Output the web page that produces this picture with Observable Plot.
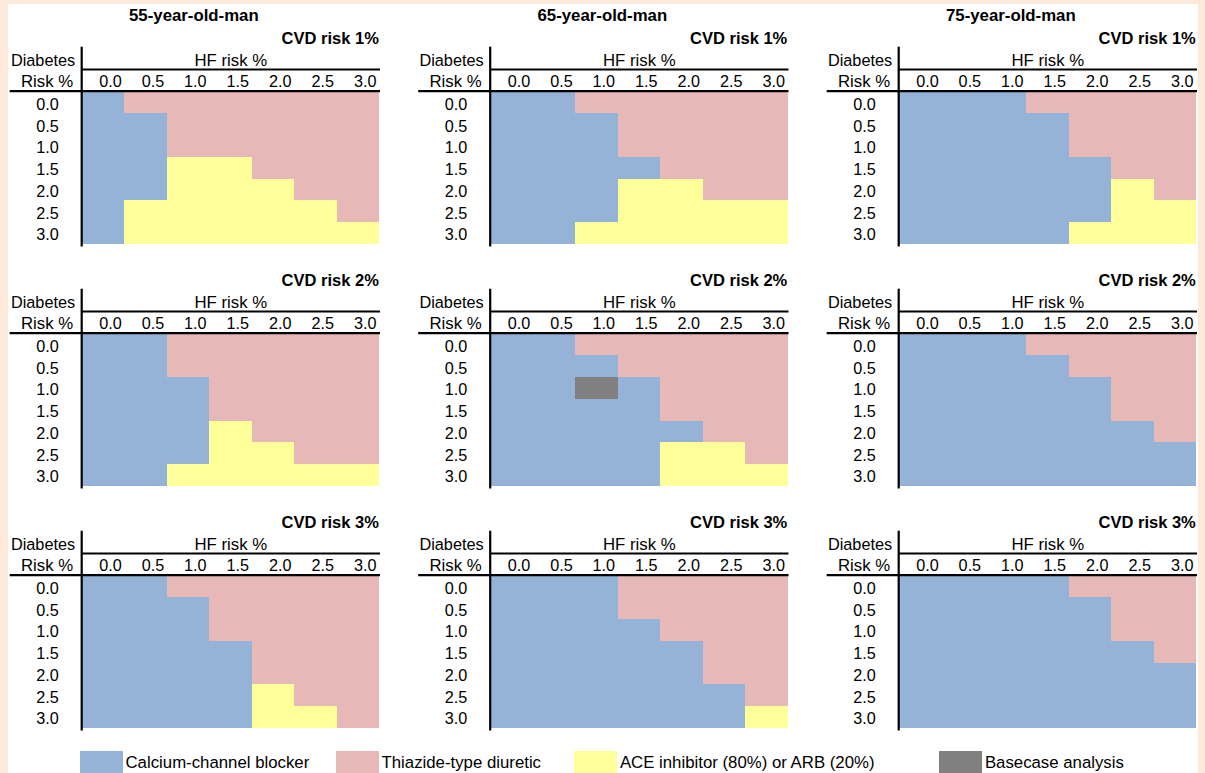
<!DOCTYPE html>
<html>
<head>
<meta charset="utf-8">
<script src="https://cdn.jsdelivr.net/npm/d3@7"></script>
<script src="https://cdn.jsdelivr.net/npm/@observablehq/plot@0.6"></script>
<style>
  html, body { margin: 0; padding: 0; width: 1205px; height: 773px; overflow: hidden; background: #FDE9D9; font-family: 'Liberation Sans', Arial, sans-serif; }
  #sheet { position: absolute; left: 8px; top: 4px; width: 1190px; height: 769px; background: #ffffff; }
  #chart { position: absolute; left: 0; top: 0; }
  #legend { position: absolute; left: 0; top: 0; width: 1205px; height: 773px; }
  .sw { position: absolute; }
  .lb { position: absolute; white-space: nowrap; color: #000; }
</style>
</head>
<body>
<div id="sheet"></div>
<div id="chart"></div>
<div id="legend"></div>
<script>
// ---------- data ----------
const ages = ["55-year-old-man", "65-year-old-man", "75-year-old-man"];
const cvdRisks = ["CVD risk 1%", "CVD risk 2%", "CVD risk 3%"];
const hfRisk = ["0.0", "0.5", "1.0", "1.5", "2.0", "2.5", "3.0"];        // columns
const diabetesRisk = ["0.0", "0.5", "1.0", "1.5", "2.0", "2.5", "3.0"];  // rows
const rowHeader = ["Diabetes", "Risk %"];
const colHeader = "HF risk %";
const treatments = ["Calcium-channel blocker", "Thiazide-type diuretic", "ACE inhibitor (80%) or ARB (20%)", "Basecase analysis"];
const treatmentCodes = ["C", "T", "A", "B"];
const treatmentColors = ["#95B3D7", "#E6B8B7", "#FFFF99", "#808080"];

// optimal treatment per cell: one string per diabetes-risk row, one letter per HF-risk column
const grid55cvd1 = ["CTTTTTT", "CCTTTTT", "CCTTTTT", "CCAATTT", "CCAAATT", "CAAAAAT", "CAAAAAA"];
const grid65cvd1 = ["CCTTTTT", "CCCTTTT", "CCCTTTT", "CCCCTTT", "CCCAATT", "CCCAAAA", "CCAAAAA"];
const grid75cvd1 = ["CCCTTTT", "CCCCTTT", "CCCCTTT", "CCCCCTT", "CCCCCAT", "CCCCCAA", "CCCCAAA"];
const grid55cvd2 = ["CCTTTTT", "CCTTTTT", "CCCTTTT", "CCCTTTT", "CCCATTT", "CCCAATT", "CCAAAAA"];
const grid65cvd2 = ["CCTTTTT", "CCCTTTT", "CCBCTTT", "CCCCTTT", "CCCCCTT", "CCCCAAT", "CCCCAAA"];
const grid75cvd2 = ["CCCTTTT", "CCCCTTT", "CCCCCTT", "CCCCCTT", "CCCCCCT", "CCCCCCC", "CCCCCCC"];
const grid55cvd3 = ["CCTTTTT", "CCCTTTT", "CCCTTTT", "CCCCTTT", "CCCCTTT", "CCCCATT", "CCCCAAT"];
const grid65cvd3 = ["CCCTTTT", "CCCTTTT", "CCCCTTT", "CCCCCTT", "CCCCCTT", "CCCCCCT", "CCCCCCA"];
const grid75cvd3 = ["CCCCTTT", "CCCCCTT", "CCCCCTT", "CCCCCCT", "CCCCCCC", "CCCCCCC", "CCCCCCC"];

const panelGrids = [
  [ages[0], cvdRisks[0], grid55cvd1], [ages[1], cvdRisks[0], grid65cvd1], [ages[2], cvdRisks[0], grid75cvd1],
  [ages[0], cvdRisks[1], grid55cvd2], [ages[1], cvdRisks[1], grid65cvd2], [ages[2], cvdRisks[1], grid75cvd2],
  [ages[0], cvdRisks[2], grid55cvd3], [ages[1], cvdRisks[2], grid65cvd3], [ages[2], cvdRisks[2], grid75cvd3]
];

// ---------- tables built from the arrays ----------
const cells = [];
for (const [age, cvd, grid] of panelGrids) {
  grid.forEach((row, r) => {
    [...row].forEach((code, c) => {
      cells.push({age, cvd, diab: diabetesRisk[r], hf: hfRisk[c], treatment: treatments[treatmentCodes.indexOf(code)]});
    });
  });
}
const panels = panelGrids.map(([age, cvd]) => ({age, cvd}));

// ---------- layout ----------
const W = 1205, H = 740;
const mL = 81.7, mR = 9, mT = 91.7, mB = 12;
const fxPad = 0.2722, fyPad = 0.3707;
const panelW = (W - mL - mR) / (ages.length - fxPad) * (1 - fxPad);
const panelH = (H - mT - mB) / (cvdRisks.length - fyPad) * (1 - fyPad);
const bwX = panelW / hfRisk.length;
const bwY = panelH / diabetesRisk.length;
const FONT = "'Liberation Sans', Arial, sans-serif";

const chart = Plot.plot({
  width: W,
  height: H,
  marginLeft: mL, marginRight: mR, marginTop: mT, marginBottom: mB,
  style: {fontFamily: FONT, fontSize: "16px", background: "transparent", overflow: "visible", color: "#000"},
  fx: {domain: ages, paddingInner: fxPad, paddingOuter: 0, round: false, axis: null},
  fy: {domain: cvdRisks, paddingInner: fyPad, paddingOuter: 0, round: false, axis: null},
  x: {domain: hfRisk, padding: 0, round: false},
  y: {domain: diabetesRisk, padding: 0, round: false},
  color: {domain: treatments, range: treatmentColors},
  marks: [
    Plot.cell(cells, {x: "hf", y: "diab", fx: "age", fy: "cvd", fill: "treatment", inset: 0, shapeRendering: "crispEdges"}),
    Plot.axisX({anchor: "top", facetAnchor: null, tickSize: 0, tickPadding: 10.7, lineAnchor: "middle",
                textAnchor: "end", dx: bwX / 2 - 3, label: null, fontSize: 16.2}),
    Plot.axisY({anchor: "left", facetAnchor: null, tickSize: 0, tickPadding: 23.5, dy: 1.5, label: null, fontSize: 16.2}),
    // vertical separator at the left of each grid
    Plot.ruleX(panels, {fx: "age", fy: "cvd", x: () => hfRisk[0], dx: -bwX / 2 - 0.5,
                        insetTop: -45, insetBottom: -2.5, stroke: "#000", strokeWidth: 2.2}),
    // heavy line under the column labels
    Plot.ruleY(panels, {fx: "age", fy: "cvd", y: () => diabetesRisk[0], dy: -bwY / 2 - 1,
                        insetLeft: -72, insetRight: -1, stroke: "#000", strokeWidth: 2.2}),
    // line under "HF risk %"
    Plot.ruleY(panels, {fx: "age", fy: "cvd", y: () => diabetesRisk[0], dy: -bwY / 2 - 22.7,
                        insetRight: -1, stroke: "#000", strokeWidth: 2}),
    // headers
    Plot.text(panels, {fx: "age", fy: "cvd", text: () => rowHeader[0], frameAnchor: "top-left",
                       textAnchor: "end", lineAnchor: "middle", dx: -7, dy: -31.7, fontSize: 16.3}),
    Plot.text(panels, {fx: "age", fy: "cvd", text: () => rowHeader[1], frameAnchor: "top-left",
                       textAnchor: "end", lineAnchor: "middle", dx: -9, dy: -10.7, fontSize: 16.8}),
    Plot.text(panels, {fx: "age", fy: "cvd", text: () => colHeader, frameAnchor: "top",
                       lineAnchor: "middle", dy: -31.7, fontSize: 16.8}),
    Plot.text(panels, {fx: "age", fy: "cvd", text: "cvd", frameAnchor: "top-right",
                       textAnchor: "end", lineAnchor: "middle", dx: -0.7, dy: -53.3, fontSize: 16.5, fontWeight: "bold"}),
    Plot.text(panels.filter(p => p.cvd === cvdRisks[0]), {fx: "age", fy: "cvd", text: "age", frameAnchor: "top",
                       lineAnchor: "middle", dx: -37, dy: -76.7, fontSize: 16.8, fontWeight: "bold"})
  ]
});
document.getElementById("chart").appendChild(chart);

// ---------- legend ----------
const legendLeft = [80, 336, 574.4, 939.4];
const legend = document.getElementById("legend");
treatments.forEach((t, i) => {
  const sw = document.createElement("div");
  sw.className = "sw";
  Object.assign(sw.style, {left: legendLeft[i] + "px", top: "750.5px", width: "42.6px", height: "23px", background: treatmentColors[i]});
  legend.appendChild(sw);
  const lb = document.createElement("div");
  lb.className = "lb";
  lb.textContent = t;
  Object.assign(lb.style, {left: (legendLeft[i] + 45.5) + "px", top: "752px", height: "22px", lineHeight: "22px", fontSize: "16.8px", fontFamily: FONT});
  legend.appendChild(lb);
});
</script>
</body>
</html>
